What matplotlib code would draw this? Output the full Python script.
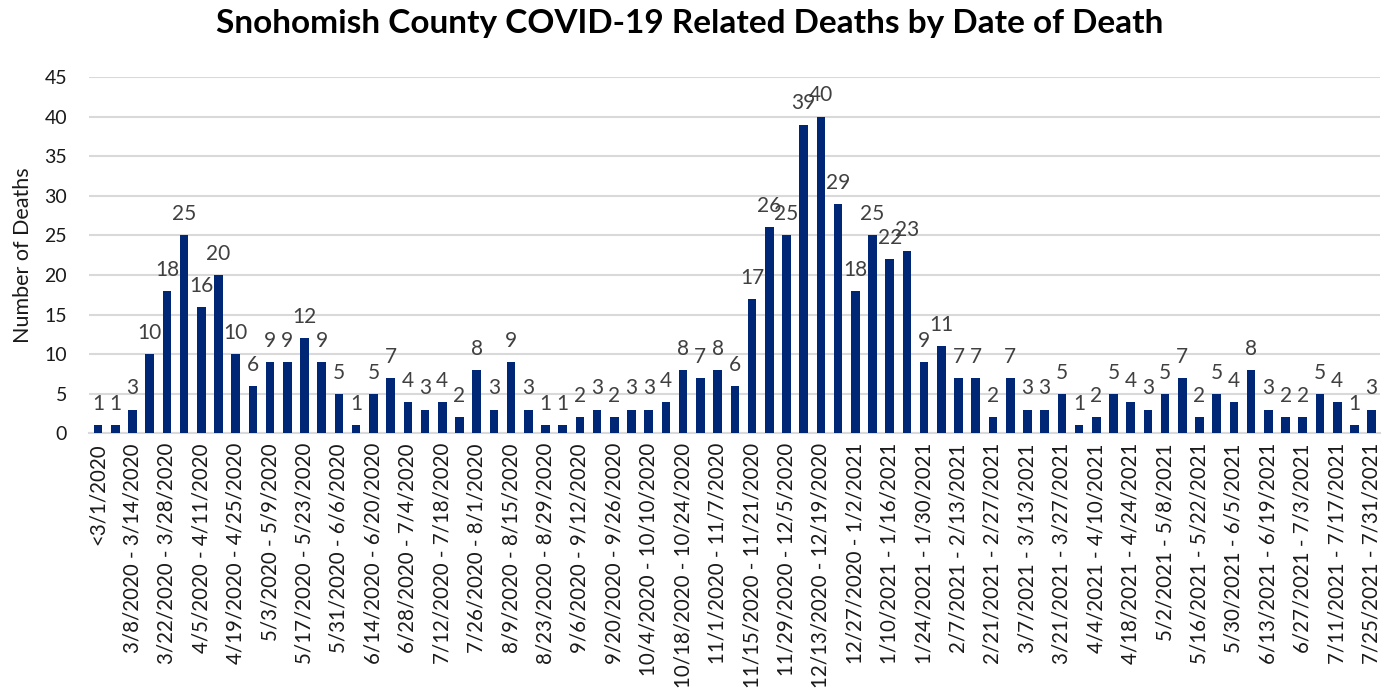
import matplotlib
matplotlib.use("Agg")
import matplotlib.pyplot as plt
import numpy as np

deaths = [1, 1, 3, 10, 18, 25, 16, 20, 10, 6, 9, 9, 12, 9, 5, 1, 5, 7, 4, 3,
          4, 2, 8, 3, 9, 3, 1, 1, 2, 3, 2, 3, 3, 4, 8, 7, 8, 6, 17, 26,
          25, 39, 40, 29, 18, 25, 22, 23, 9, 11, 7, 7, 2, 7, 3, 3, 5, 1, 2, 5,
          4, 3, 5, 7, 2, 5, 4, 8, 3, 2, 2, 5, 4, 1, 3]

tick_labels = ["<3/1/2020", "3/8/2020 - 3/14/2020", "3/22/2020 - 3/28/2020",
               "4/5/2020 - 4/11/2020", "4/19/2020 - 4/25/2020", "5/3/2020 - 5/9/2020",
               "5/17/2020 - 5/23/2020", "5/31/2020 - 6/6/2020", "6/14/2020 - 6/20/2020",
               "6/28/2020 - 7/4/2020", "7/12/2020 - 7/18/2020", "7/26/2020 - 8/1/2020",
               "8/9/2020 - 8/15/2020", "8/23/2020 - 8/29/2020", "9/6/2020 - 9/12/2020",
               "9/20/2020 - 9/26/2020", "10/4/2020 - 10/10/2020", "10/18/2020 - 10/24/2020",
               "11/1/2020 - 11/7/2020", "11/15/2020 - 11/21/2020", "11/29/2020 - 12/5/2020",
               "12/13/2020 - 12/19/2020", "12/27/2020 - 1/2/2021", "1/10/2021 - 1/16/2021",
               "1/24/2021 - 1/30/2021", "2/7/2021 - 2/13/2021", "2/21/2021 - 2/27/2021",
               "3/7/2021 - 3/13/2021", "3/21/2021 - 3/27/2021", "4/4/2021 - 4/10/2021",
               "4/18/2021 - 4/24/2021", "5/2/2021 - 5/8/2021", "5/16/2021 - 5/22/2021",
               "5/30/2021 - 6/5/2021", "6/13/2021 - 6/19/2021", "6/27/2021 - 7/3/2021",
               "7/11/2021 - 7/17/2021", "7/25/2021 - 7/31/2021"]

title = "Snohomish County COVID-19 Related Deaths by Date of Death"
ylabel = "Number of Deaths"

plt.rcParams['font.family'] = ['Lato', 'DejaVu Sans']

fig = plt.figure(figsize=(13.97, 7.0), dpi=100)
ax = fig.add_axes([0.064, 0.381, 0.924, 0.509])

x = np.arange(len(deaths))
bar_color = "#002776"
text_color = "#404040"
ax.bar(x, deaths, width=0.5, color=bar_color, zorder=3)

for xi, v in zip(x, deaths):
    ax.annotate(str(v), (xi, v), xytext=(0, 8), textcoords="offset points",
                ha="center", va="bottom", fontsize=15, color=text_color, zorder=4)

ax.set_xlim(-0.5, len(deaths) - 0.5)
ax.set_ylim(0, 45)
ax.set_yticks(np.arange(0, 46, 5))
ax.yaxis.grid(True, color="#d9d9d9", linewidth=1.5, zorder=0)
ax.set_axisbelow(True)

ax.set_xticks(x[::2])
ax.set_xticklabels(tick_labels, rotation=90, fontsize=14.8, color="#1a1a1a")
ax.tick_params(axis="both", length=0)
ax.tick_params(axis="y", labelsize=14, pad=16, colors="#1a1a1a")
ax.tick_params(axis="x", pad=7)

for s in ["top", "right", "left"]:
    ax.spines[s].set_visible(False)
ax.spines["bottom"].set_color("#d9d9d9")
ax.spines["bottom"].set_linewidth(1.5)

ax.set_ylabel(ylabel, fontsize=15.5, labelpad=8, color="#1a1a1a")
ax.yaxis.set_label_coords(-0.044, 0.5)
fig.text(0.494, 0.967, title, ha="center", va="center", fontsize=24, fontweight="bold")

fig.savefig("out.png", dpi=100)
